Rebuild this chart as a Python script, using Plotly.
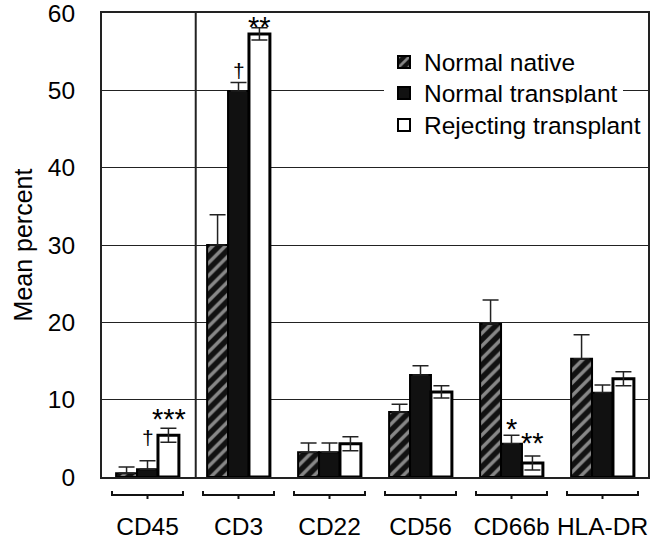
import plotly.graph_objects as go

categories = ["CD45", "CD3", "CD22", "CD56", "CD66b", "HLA-DR"]
series_names = ["Normal native", "Normal transplant", "Rejecting transplant"]
normal_native = [0.5, 30.0, 3.2, 8.4, 19.8, 15.3]
normal_native_err = [0.8, 3.9, 1.2, 1.0, 3.1, 3.1]
normal_transplant = [1.0, 49.9, 3.2, 13.2, 4.3, 10.9]
normal_transplant_err = [1.1, 1.1, 1.2, 1.2, 1.1, 1.0]
rejecting_transplant = [5.4, 57.3, 4.3, 11.0, 1.8, 12.7]
rejecting_transplant_err = [0.9, 0.8, 0.9, 0.8, 0.9, 0.9]
# significance marks: (category index, series index, text)
marks = [(0, 1, "\u2020"), (0, 2, "***"), (1, 1, "\u2020"), (1, 2, "**"),
         (4, 1, "*"), (4, 2, "**")]
# pixel gap between error-bar top and mark centre (styling only)
mark_gap = [24, 15, 13, 7, 12, 19]

FONT = "Liberation Sans, Arial, sans-serif"
FS = 24.5
W, H = 664, 542
ML, MR, MT, MB = 102, 16, 13, 65
PH = H - MT - MB

legend_names = ["legend", "legend2", "legend3"]
legend_rows_px = [62, 93, 125]  # screen y of each legend row centre

fig = go.Figure()
fig.add_trace(go.Bar(
    x=categories, y=normal_native, name=series_names[0], legend=legend_names[0],
    marker=dict(color="#111", line=dict(color="black", width=2),
                pattern=dict(shape="/", fgcolor="white", bgcolor="#111",
                             size=9, solidity=0.38)),
    error_y=dict(type="data", array=normal_native_err, symmetric=False,
                 arrayminus=[0] * len(categories), color="#222",
                 thickness=1.5, width=8)))
fig.add_trace(go.Bar(
    x=categories, y=normal_transplant, name=series_names[1], legend=legend_names[1],
    marker=dict(color="#111", line=dict(color="black", width=2)),
    error_y=dict(type="data", array=normal_transplant_err, symmetric=False,
                 arrayminus=[0] * len(categories), color="#222",
                 thickness=1.5, width=8)))
fig.add_trace(go.Bar(
    x=categories, y=rejecting_transplant, name=series_names[2], legend=legend_names[2],
    marker=dict(color="white", line=dict(color="black", width=3)),
    error_y=dict(type="data", array=rejecting_transplant_err, symmetric=True,
                 color="#222", thickness=1.5, width=8)))

vals = [normal_native, normal_transplant, rejecting_transplant]
errs = [normal_native_err, normal_transplant_err, rejecting_transplant_err]
bar_px = 21
for (ci, si, txt), gap in zip(marks, mark_gap):
    star = "*" in txt
    fig.add_annotation(x=categories[ci], y=vals[si][ci] + errs[si][ci],
                       text=txt, showarrow=False, xref="x", yref="y",
                       xshift=(si - 1) * bar_px, yanchor="middle",
                       yshift=gap - (6 if star else 1),
                       font=dict(family=FONT, size=29 if star else 21, color="black"))

# group brackets under each category
px = 1.0 / PH
for i in range(len(categories)):
    x0, x1 = i - 0.39, i + 0.39
    yb = -18 * px
    fig.add_shape(type="path", xref="x", yref="paper",
                  path=f"M {x0},{-14*px} L {x0},{yb} L {x1},{yb} L {x1},{-14*px}",
                  line=dict(color="#111", width=2))
    fig.add_shape(type="line", xref="x", yref="paper", x0=i, x1=i,
                  y0=yb, y1=-22 * px, line=dict(color="#111", width=2))

# vertical divider after first group
fig.add_shape(type="line", xref="x", yref="paper", x0=0.53, x1=0.53, y0=0, y1=1,
              line=dict(color="#222", width=2), layer="below")

legends = {}
for name, row in zip(legend_names, legend_rows_px):
    legends[name] = dict(x=0.5165, y=(H - MB - row) / PH, xanchor="left",
                         yanchor="middle", bgcolor="white", borderwidth=0,
                         font=dict(size=FS), itemsizing="constant")

fig.update_layout(
    width=W, height=H, margin=dict(l=ML, r=MR, t=MT, b=MB, autoexpand=False),
    paper_bgcolor="white", plot_bgcolor="white",
    barmode="group", bargap=0.31, bargroupgap=0,
    font=dict(family=FONT, size=FS, color="black"),
    showlegend=True,
    xaxis=dict(showline=True, linecolor="#222", linewidth=2, mirror=True,
               ticks="", showgrid=False, ticklabelstandoff=27, automargin=False,
               ticklabeloverflow="allow", tickfont=dict(size=FS)),
    yaxis=dict(range=[0, 60], dtick=10, showgrid=True, gridcolor="#222",
               gridwidth=1.2, showline=True, linecolor="#222", linewidth=2,
               mirror=True, ticks="", zeroline=False, ticklabelstandoff=20,
               automargin=False, ticklabeloverflow="allow", tickfont=dict(size=FS),
               title=dict(text="Mean percent", font=dict(size=25), standoff=8)),
    **legends,
)

fig.write_html("out.html", config={"displayModeBar": False},
               post_script="document.body.style.margin='0';")
